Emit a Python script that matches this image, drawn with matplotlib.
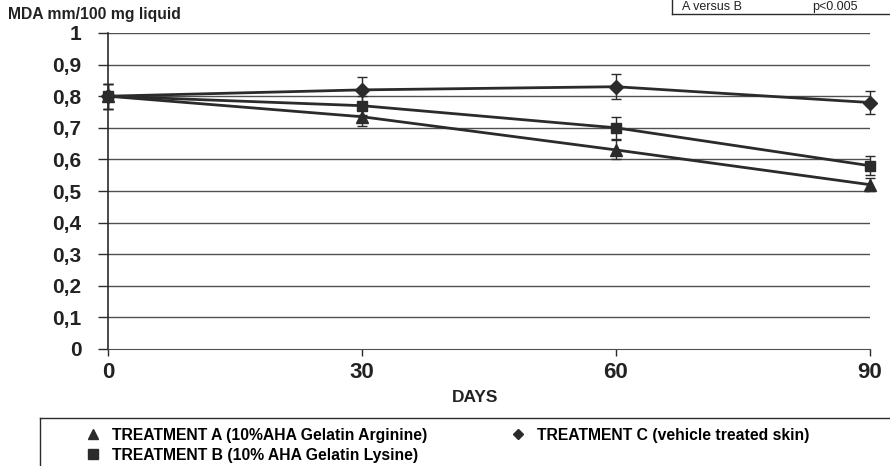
import numpy as np
import matplotlib.pyplot as plt
from matplotlib.lines import Line2D

days = [0, 30, 60, 90]
treat_a = [0.80, 0.735, 0.63, 0.52]
treat_a_err = [0.04, 0.03, 0.03, 0.02]
treat_b = [0.80, 0.77, 0.70, 0.58]
treat_b_err = [0.04, 0.03, 0.035, 0.03]
treat_c = [0.80, 0.82, 0.83, 0.78]
treat_c_err = [0.04, 0.04, 0.04, 0.035]
yticks = [0, 0.1, 0.2, 0.3, 0.4, 0.5, 0.6, 0.7, 0.8, 0.9, 1.0]
ytick_labels = ["0", "0,1", "0,2", "0,3", "0,4", "0,5", "0,6", "0,7", "0,8", "0,9", "1"]
xticks = [0, 30, 60, 90]
labels = ["TREATMENT A (10%AHA Gelatin Arginine)",
          "TREATMENT B (10% AHA Gelatin Lysine)",
          "TREATMENT C (vehicle treated skin)"]

plt.rcParams["font.family"] = ["Liberation Sans", "DejaVu Sans"]
INK = "#2b2b2b"
GRID = "#505050"

fig = plt.figure(figsize=(8.9, 4.66), dpi=100)
ax = fig.add_axes([108 / 890, 1 - 349 / 466, 762 / 890, 316 / 466])

for y in yticks[1:]:
    ax.axhline(y, color=GRID, lw=1.0, zorder=1)

series = [(treat_a, treat_a_err, "^", 8.5), (treat_b, treat_b_err, "s", 7.5), (treat_c, treat_c_err, "D", 7.5)]
handles = []
for (vals, err, mk, ms), lab in zip(series, labels):
    ax.errorbar(days, vals, yerr=err, color=INK, lw=2.0, marker=mk, ms=ms, mfc=INK, mec=INK,
                capsize=3.5, elinewidth=1.0, capthick=1.0, zorder=3, clip_on=False)
    handles.append(Line2D([], [], ls="none", marker=mk, color=INK, ms=6.5 if mk != "D" else 5.5, label=lab))

ax.set_xlim(0, 90)
ax.set_ylim(0, 1)
ax.set_yticks(yticks)
ax.set_yticklabels(ytick_labels, fontsize=15, fontweight="bold", color="#222")
ax.set_xticks(xticks)
ax.set_xticklabels([str(d) for d in xticks], fontsize=16, fontweight="bold", color="#222")
ax.tick_params(axis="y", length=7, width=1, color=INK, pad=12)
ax.tick_params(axis="x", length=5, width=1, color=INK, pad=4)
for s in ("top", "right"):
    ax.spines[s].set_visible(False)
ax.spines["left"].set_color(INK)
ax.spines["bottom"].set_color(GRID)
ax.spines["left"].set_linewidth(1.2)

fig.text(475 / 890, 1 - 397 / 466, "DAYS", fontsize=12.5, fontweight="bold", ha="center", va="center", color="#222")
fig.text(8 / 890, 1 - 15 / 466, "MDA mm/100 mg liquid", fontsize=11.3, fontweight="bold", va="center", color="#222")

# legend box (clipped by figure edges as in the scan)
fig.add_artist(Line2D([40 / 890, 1], [1 - 418 / 466] * 2, transform=fig.transFigure, color=INK, lw=1))
fig.add_artist(Line2D([40 / 890] * 2, [1 - 418 / 466, 0], transform=fig.transFigure, color=INK, lw=1))
fig.legend(handles=handles, ncol=2, loc="upper left", bbox_to_anchor=(76 / 890, 1 - 420 / 466),
           frameon=False, prop={"size": 11.3, "weight": "bold"}, handletextpad=0.6,
           columnspacing=5.2, labelspacing=0.3, handlelength=1.2, borderpad=0.0)

# statistics box at top right
fig.add_artist(Line2D([672 / 890] * 2, [1, 1 - 14 / 466], transform=fig.transFigure, color=INK, lw=1))
fig.add_artist(Line2D([672 / 890, 1], [1 - 14 / 466] * 2, transform=fig.transFigure, color=INK, lw=1))
fig.text(682 / 890, 1 - 1 / 466, "A versus B", fontsize=9, va="top", color="#222")
fig.text(812 / 890, 1 - 1 / 466, "p<0.005", fontsize=9, va="top", color="#222")

fig.savefig("out.png", dpi=100, facecolor="white")
